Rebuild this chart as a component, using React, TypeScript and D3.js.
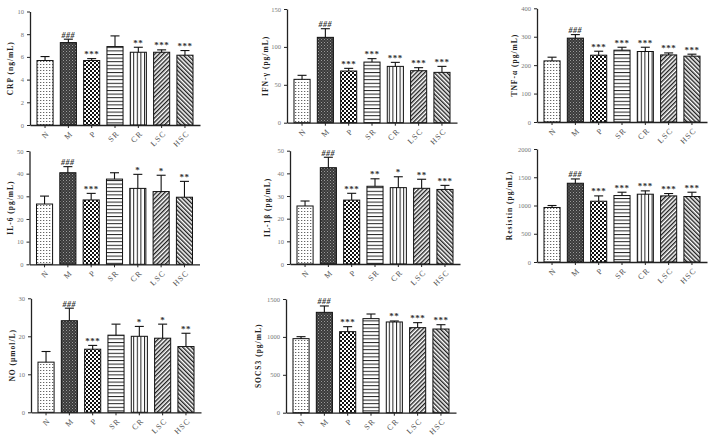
import React, { useEffect, useRef } from 'react';
import * as d3 from 'd3';

const groups = ['N', 'M', 'P', 'SR', 'CR', 'LSC', 'HSC'];

const crpMean = [5.68, 7.26, 5.68, 6.91, 6.41, 6.41, 6.15];
const crpSd = [0.35, 0.3, 0.17, 0.94, 0.44, 0.21, 0.41];
const crpSig = ['', '###', '***', '', '**', '***', '***'];

const ifnMean = [57.2, 112.6, 68.2, 80, 74.3, 68.6, 66.4];
const ifnSd = [5.3, 11.4, 3.5, 4.5, 5.3, 4, 7.9];
const ifnSig = ['', '###', '***', '***', '***', '***', '***'];

const tnfMean = [215, 295, 235, 252.6, 248, 236, 231.6];
const tnfSd = [13, 12.5, 14, 10.4, 15, 7, 7];
const tnfSig = ['', '###', '***', '***', '***', '***', '***'];

const il6Mean = [26.6, 40.4, 28.4, 37.6, 33.5, 32.1, 29.6];
const il6Sd = [3.5, 2.7, 2.9, 2.8, 6.2, 7.2, 7];
const il6Sig = ['', '###', '***', '', '*', '*', '**'];

const il1bMean = [25.6, 42.5, 28.2, 34.3, 33.7, 33.4, 32.9];
const il1bSd = [2.2, 4.6, 3, 3.3, 4.8, 4, 1.8];
const il1bSig = ['', '###', '***', '**', '*', '**', '***'];

const resistinMean = [965, 1394, 1076, 1176, 1200, 1170, 1159];
const resistinSd = [35, 76, 94, 59, 59, 42, 76];
const resistinSig = ['', '###', '***', '***', '***', '***', '***'];

const noMean = [13.2, 24.1, 16.6, 20.3, 20, 19.5, 17.3];
const noSd = [2.8, 3.3, 1, 2.9, 2.6, 3.7, 3.5];
const noSig = ['', '###', '***', '', '*', '*', '**'];

const socsMean = [977, 1324, 1069, 1241, 1197, 1122, 1104];
const socsSd = [26, 84, 66, 61, 13, 66, 57];
const socsSig = ['', '###', '***', '', '**', '***', '***'];

const panels = [
  { label: 'CRP (ng/mL)', mean: crpMean, sd: crpSd, sig: crpSig, max: 10, ticks: [0, 2, 4, 6, 8, 10], x0: 30, top: 11.5, bottom: 125, lx: 10 },
  { label: 'IFN-γ (pg/mL)', mean: ifnMean, sd: ifnSd, sig: ifnSig, max: 150, ticks: [0, 50, 100, 150], x0: 287, top: 9, bottom: 122.7, lx: 265 },
  { label: 'TNF-α (pg/mL)', mean: tnfMean, sd: tnfSd, sig: tnfSig, max: 400, ticks: [0, 100, 200, 300, 400], x0: 537, top: 8.3, bottom: 122, lx: 514 },
  { label: 'IL-6 (pg/mL)', mean: il6Mean, sd: il6Sd, sig: il6Sig, max: 50, ticks: [0, 10, 20, 30, 40, 50], x0: 29.5, top: 151, bottom: 264.3, lx: 10 },
  { label: 'IL-1β (pg/mL)', mean: il1bMean, sd: il1bSd, sig: il1bSig, max: 50, ticks: [0, 10, 20, 30, 40, 50], x0: 290, top: 150.7, bottom: 264, lx: 267 },
  { label: 'Resistin (pg/mL)', mean: resistinMean, sd: resistinSd, sig: resistinSig, max: 2000, ticks: [0, 500, 1000, 1500, 2000], x0: 537, top: 149, bottom: 262, lx: 509 },
  { label: 'NO (μmol/L)', mean: noMean, sd: noSd, sig: noSig, max: 30, ticks: [0, 10, 20, 30], x0: 31, top: 298.3, bottom: 412.3, lx: 12 },
  { label: 'SOCS3 (pg/mL)', mean: socsMean, sd: socsSd, sig: socsSig, max: 1500, ticks: [0, 500, 1000, 1500], x0: 286, top: 299, bottom: 412.7, lx: 258 },
];

const fills = ['url(#pN)', 'url(#pM)', 'url(#pP)', 'url(#pSR)', 'url(#pCR)', 'url(#pLSC)', 'url(#pHSC)'];
const font = '"Liberation Serif", "DejaVu Serif", serif';

export default function App() {
  const ref = useRef<SVGSVGElement>(null);

  useEffect(() => {
    if (!ref.current) return;
    const svg = d3.select(ref.current);
    svg.selectAll('*').remove();

    // Patterns for the group fills
    const defs = svg.append('defs');
    const pat = (id: string, w: number, h: number, bg: string) => {
      const p = defs.append('pattern').attr('id', id).attr('patternUnits', 'userSpaceOnUse')
        .attr('width', w).attr('height', h);
      p.append('rect').attr('width', w).attr('height', h).attr('fill', bg);
      return p;
    };
    pat('pN', 3, 3, '#fff').append('rect').attr('x', 1).attr('y', 1).attr('width', 1.3).attr('height', 1).attr('fill', '#666');
    const m = pat('pM', 3, 3, '#3a3a3a');
    m.append('rect').attr('x', 0).attr('y', 0).attr('width', 1).attr('height', 1).attr('fill', '#9a9a9a');
    m.append('rect').attr('x', 1.5).attr('y', 1.5).attr('width', 1).attr('height', 1).attr('fill', '#777');
    const p = pat('pP', 4, 4, '#fff');
    p.append('rect').attr('x', 0).attr('y', 0).attr('width', 2).attr('height', 2).attr('fill', '#111');
    p.append('rect').attr('x', 2).attr('y', 2).attr('width', 2).attr('height', 2).attr('fill', '#111');
    pat('pSR', 4, 3.6, '#fff').append('rect').attr('x', 0).attr('y', 0).attr('width', 4).attr('height', 1).attr('fill', '#222');
    pat('pCR', 3.6, 4, '#fff').append('rect').attr('x', 0).attr('y', 0).attr('width', 1).attr('height', 4).attr('fill', '#222');
    pat('pLSC', 3, 3, '#fff').attr('patternTransform', 'rotate(45)')
      .append('rect').attr('x', 0).attr('y', 0).attr('width', 1.4).attr('height', 3).attr('fill', '#222');
    pat('pHSC', 3, 3, '#fff').attr('patternTransform', 'rotate(-45)')
      .append('rect').attr('x', 0).attr('y', 0).attr('width', 1.4).attr('height', 3).attr('fill', '#222');

    panels.forEach((pn) => {
      const g = svg.append('g');
      const x = d3.scaleBand().domain(groups).range([pn.x0, pn.x0 + 170]).paddingInner(0.31).paddingOuter(0.3);
      const y = d3.scaleLinear().domain([0, pn.max]).range([pn.bottom, pn.top]);
      const bw = x.bandwidth();

      // bars
      g.selectAll('rect.bar').data(groups).enter().append('rect')
        .attr('x', (d) => x(d)!)
        .attr('y', (d, i) => y(pn.mean[i]))
        .attr('width', bw)
        .attr('height', (d, i) => pn.bottom - y(pn.mean[i]))
        .attr('fill', (d, i) => fills[i])
        .attr('stroke', '#111').attr('stroke-width', 1);

      // error bars + significance marks
      groups.forEach((d, i) => {
        const cx = x(d)! + bw / 2;
        const y1 = y(pn.mean[i]);
        const y2 = y(pn.mean[i] + pn.sd[i]);
        g.append('line').attr('x1', cx).attr('x2', cx).attr('y1', y1).attr('y2', y2).attr('stroke', '#111').attr('stroke-width', 1.1);
        g.append('line').attr('x1', cx - 4.5).attr('x2', cx + 4.5).attr('y1', y2).attr('y2', y2).attr('stroke', '#111').attr('stroke-width', 1.1);
        if (pn.sig[i]) {
          g.append('text').attr('x', cx).attr('y', y2 - 1.5).attr('text-anchor', 'middle')
            .style('font-family', font).style('font-size', pn.sig[i][0] === '#' ? '8px' : '9px')
            .style('font-style', pn.sig[i][0] === '#' ? 'italic' : 'normal')
            .style('font-weight', 'bold').style('letter-spacing', '0.5px')
            .attr('fill', '#333').text(pn.sig[i]);
        }
      });

      // y axis
      const ya = g.append('g').attr('transform', `translate(${pn.x0},0)`)
        .call(d3.axisLeft(y).tickValues(pn.ticks).tickFormat(d3.format('d')).tickSize(3).tickSizeOuter(0).tickPadding(3));
      ya.select('.domain').attr('stroke', '#222').attr('stroke-width', 1.3);
      ya.selectAll('.tick line').attr('stroke', '#222').attr('stroke-width', 1);
      ya.selectAll('.tick text').attr('fill', '#777').style('font-family', font).style('font-size', '6.5px');

      // x axis
      const xa = g.append('g').attr('transform', `translate(0,${pn.bottom})`)
        .call(d3.axisBottom(x).tickSize(3).tickSizeOuter(0).tickFormat(() => ''));
      xa.select('.domain').attr('stroke', '#222').attr('stroke-width', 1.3);
      xa.selectAll('.tick line').attr('stroke', '#222').attr('stroke-width', 1);

      // rotated category labels
      groups.forEach((d) => {
        const tx = x(d)! + bw / 2 + 3;
        const ty = pn.bottom + 7;
        g.append('text')
          .attr('transform', `translate(${tx},${ty}) rotate(-45)`)
          .attr('text-anchor', 'end').attr('dy', '0.35em')
          .style('font-family', font).style('font-size', '8px').style('letter-spacing', '1.2px')
          .attr('fill', '#555')
          .text(d);
      });

      // y label
      g.append('text')
        .attr('transform', `translate(${pn.lx},${(pn.top + pn.bottom) / 2}) rotate(-90)`)
        .attr('text-anchor', 'middle').attr('dy', '0.35em')
        .style('font-family', font).style('font-size', '7.5px').style('font-weight', 'bold')
        .style('letter-spacing', '1px').attr('fill', '#222')
        .text(pn.label);
    });
  }, []);

  return (
    <svg ref={ref} width={717} height={440}
      style={{ position: 'absolute', left: 0, top: 0, background: '#fff' }} />
  );
}
